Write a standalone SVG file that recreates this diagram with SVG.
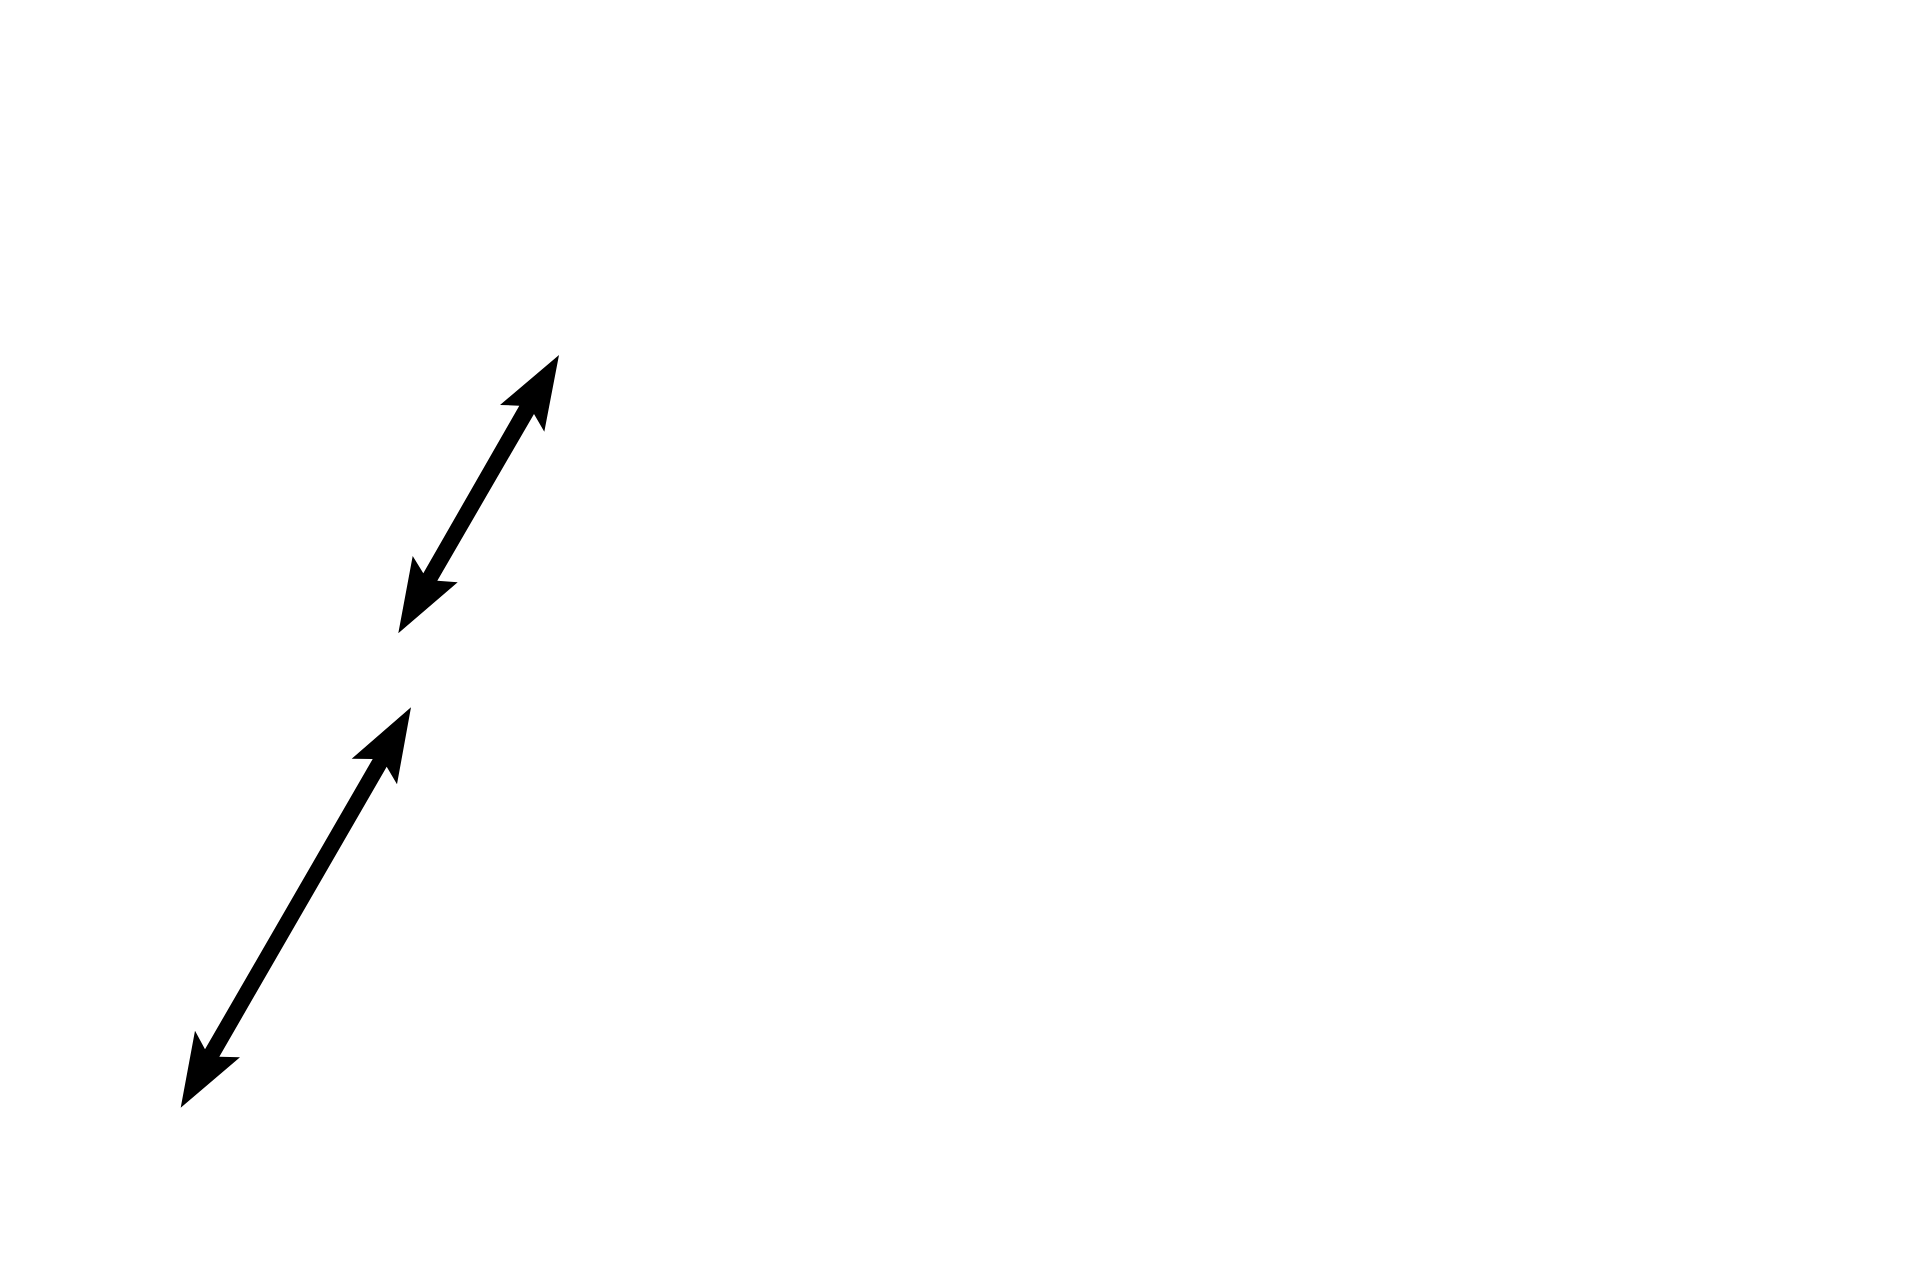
<svg xmlns="http://www.w3.org/2000/svg" width="1920" height="1280" viewBox="0 0 1920 1280">
<style>
.arrow{fill:#000;stroke:none}
</style>
<rect x="0" y="0" width="1920" height="1280" fill="#fff"/>
<g id="connectors">
<polygon id="arrow-upper" class="arrow" points="559,355 544.3,431.7 534,414 437.3,580.7 457.7,582.3 398.3,633.3 412.7,556 423.3,573.3 519.3,405.7 500,405"/>
<polygon id="arrow-lower" class="arrow" points="411,707.3 397,784.3 386.7,766.7 219.3,1056.7 240,1057.3 180.7,1107.7 195,1030.7 205,1049.3 372.7,759 351.7,758.7"/>
</g>
</svg>
